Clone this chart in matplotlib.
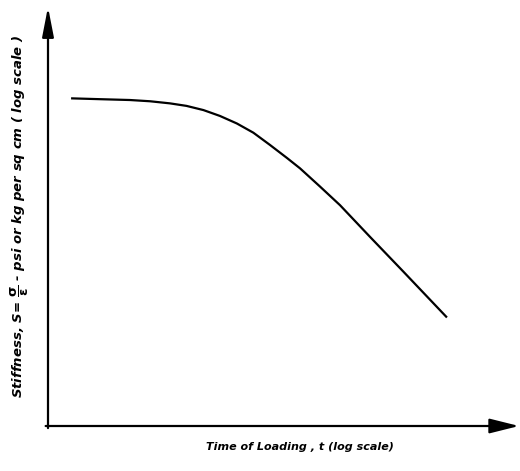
import matplotlib
matplotlib.use("Agg")
import matplotlib.pyplot as plt

# Curve (arbitrary log units, origin at the axes corner)
log_time = [0.49, 1.10, 1.74, 2.17, 2.59, 2.94, 3.30, 3.65, 4.01, 4.36, 4.71,
            5.07, 5.35, 5.77, 6.20, 6.84, 7.54, 8.47]
log_stiffness = [7.82, 7.80, 7.78, 7.75, 7.70, 7.64, 7.54, 7.40, 7.22, 7.00,
                 6.71, 6.40, 6.15, 5.72, 5.27, 4.51, 3.69, 2.59]

x_label = "Time of Loading , t (log scale)"
y_label = r"Stiffness, S= $\mathbf{\dfrac{\sigma}{\epsilon}}$ - psi or kg per sq cm ( log scale )"

fig = plt.figure(figsize=(5.2, 4.71), dpi=100)
ax = fig.add_axes([48 / 520, 45 / 471, 471 / 520, 419 / 471])
ax.set_xlim(0, 10)
ax.set_ylim(0, 10)
ax.axis("off")

ax.plot(log_time, log_stiffness, color="black", lw=1.6,
        solid_capstyle="butt", solid_joinstyle="round")

# axes drawn as arrows
ax.annotate("", xy=(0, 10), xytext=(0, -0.05),
            arrowprops=dict(arrowstyle="-|>,head_length=1.8,head_width=0.35",
                            color="black", lw=1.6, shrinkA=0, shrinkB=0))
ax.annotate("", xy=(10, 0), xytext=(-0.05, 0),
            arrowprops=dict(arrowstyle="-|>,head_length=1.8,head_width=0.45",
                            color="black", lw=1.6, shrinkA=0, shrinkB=0))

fig.text(300 / 520, 1 - 447 / 471, x_label, ha="center", va="center",
         fontsize=8, fontweight="bold", style="italic")
fig.text(20 / 520, 1 - 216 / 471, y_label, ha="center", va="center",
         rotation=90, fontsize=9.5, fontweight="bold", style="italic")

fig.savefig("out.png", dpi=100, facecolor="white")
